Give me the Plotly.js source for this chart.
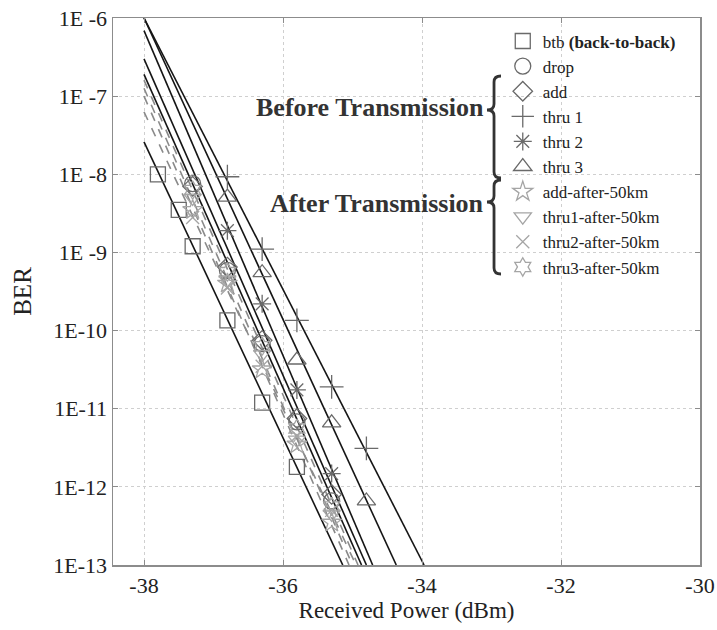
<!DOCTYPE html>
<html>
<head>
<meta charset="utf-8">
<script src="https://cdn.plot.ly/plotly-3.0.1.min.js"></script>
<style>html,body{margin:0;padding:0;background:#fff;}#chart{width:717px;height:630px;}</style>
</head>
<body>
<div id="chart"></div>
<script>
// ---- data ----
const seriesNames = ["btb <b>(back-to-back)</b>", "drop", "add", "thru 1", "thru 2", "thru 3",
  "add-after-50km", "thru1-after-50km", "thru2-after-50km", "thru3-after-50km"];

const btbX = [-37.8, -37.5, -37.3, -36.8, -36.3, -35.8];
const btbY = [1.0e-8, 3.5e-9, 1.2e-9, 1.35e-10, 1.2e-11, 1.8e-12];
const dropX = [-37.3, -36.8, -36.3, -35.8, -35.3];
const dropY = [7.6e-9, 5.9e-10, 6.8e-11, 6.8e-12, 6.6e-13];
const addX = [-37.3, -36.8, -36.3, -35.8, -35.3];
const addY = [7.0e-9, 6.5e-10, 7.5e-11, 7.5e-12, 8.0e-13];
const thru1X = [-36.8, -36.3, -35.8, -35.3, -34.8];
const thru1Y = [9.3e-9, 1.1e-9, 1.35e-10, 1.9e-11, 3.1e-12];
const thru2X = [-36.8, -36.3, -35.8, -35.3];
const thru2Y = [1.9e-9, 2.2e-10, 1.74e-11, 1.48e-12];
const thru3X = [-36.8, -36.3, -35.8, -35.3, -34.8];
const thru3Y = [5.1e-9, 5.5e-10, 4.2e-11, 6.6e-12, 6.6e-13];

const afterX = [-37.3, -36.8, -36.3, -35.8, -35.3];
const addAfterY = [3.5e-9, 4.0e-10, 3.2e-11, 3.5e-12, 3.5e-13];
const thru1AfterY = [5.0e-9, 4.5e-10, 5.0e-11, 4.0e-12, 4.5e-13];
const thru2AfterY = [2.8e-9, 3.5e-10, 3.5e-11, 4.5e-12, 5.0e-13];
const thru3AfterY = [6.3e-9, 5.6e-10, 6.3e-11, 5.6e-12, 5.6e-13];

// fitted straight lines (end points)
const btbFitX = [-38, -35.14],   btbFitY = [2.6e-8, 1e-13];
const dropFitX = [-38, -34.87],  dropFitY = [1.9e-7, 1e-13];
const addFitX = [-38, -34.8],    addFitY = [3.0e-7, 1e-13];
const thru1FitX = [-38, -33.97], thru1FitY = [1e-6, 1e-13];
const thru2FitX = [-38, -34.71], thru2FitY = [6.9e-7, 1e-13];
const thru3FitX = [-38, -34.37], thru3FitY = [1e-6, 1e-13];
const addAfterFitX = [-38, -35.05],   addAfterFitY = [1.0e-7, 1e-13];
const thru1AfterFitX = [-38, -35.0],  thru1AfterFitY = [1.26e-7, 1e-13];
const thru2AfterFitX = [-38, -34.95], thru2AfterFitY = [6.3e-8, 1e-13];
const thru3AfterFitX = [-38, -34.92], thru3AfterFitY = [1.6e-7, 1e-13];

const xTicks = [-38, -36, -34, -32, -30];
const xTickText = ["-38", "-36", "-34", "-32", "-30"];
const yTicks = [1e-6, 1e-7, 1e-8, 1e-9, 1e-10, 1e-11, 1e-12, 1e-13];
const yTickText = ["1E -6", "1E -7", "1E -8", "1E -9", "1E-10", "1E-11", "1E-12", "1E-13"];

// ---- traces ----
const SOLID = "#151515", DASH = "#8a8a8a", MK1 = "#6a6a6a", MK2 = "#a5a5a5";
function fit(x, y, color, dash) {
  return {x: x, y: y, mode: "lines", showlegend: false, hoverinfo: "skip",
    line: {color: color, width: 1.6, dash: dash}};
}
function pts(x, y, name, symbol, color, size) {
  return {x: x, y: y, mode: "markers", name: name,
    marker: {symbol: symbol, size: size, color: color,
      line: {color: color, width: 1.3}}};
}
const traces = [
  fit(addAfterFitX, addAfterFitY, DASH, "dash"),
  fit(thru1AfterFitX, thru1AfterFitY, DASH, "dash"),
  fit(thru2AfterFitX, thru2AfterFitY, DASH, "dash"),
  fit(thru3AfterFitX, thru3AfterFitY, DASH, "dash"),
  fit(btbFitX, btbFitY, SOLID, "solid"),
  fit(dropFitX, dropFitY, SOLID, "solid"),
  fit(addFitX, addFitY, SOLID, "solid"),
  fit(thru1FitX, thru1FitY, SOLID, "solid"),
  fit(thru2FitX, thru2FitY, SOLID, "solid"),
  fit(thru3FitX, thru3FitY, SOLID, "solid"),
  pts(btbX, btbY, seriesNames[0], "square-open", MK1, 15),
  pts(dropX, dropY, seriesNames[1], "circle-open", MK1, 16),
  pts(addX, addY, seriesNames[2], "diamond-open", MK1, 15),
  pts(thru1X, thru1Y, seriesNames[3], "cross-thin-open", MK1, 17),
  pts(thru2X, thru2Y, seriesNames[4], "asterisk-open", MK1, 15),
  pts(thru3X, thru3Y, seriesNames[5], "triangle-up-open", MK1, 16),
  pts(afterX, addAfterY, seriesNames[6], "star-open", MK2, 15),
  pts(afterX, thru1AfterY, seriesNames[7], "triangle-down-open", MK2, 15),
  pts(afterX, thru2AfterY, seriesNames[8], "x-thin-open", MK2, 13),
  pts(afterX, thru3AfterY, seriesNames[9], "hexagram-open", MK2, 14)
];

// ---- braces (paper coordinates) ----
const L = 113, R = 700, T = 18, B = 565;
function px(x) { return ((x - L) / (R - L)).toFixed(4); }
function py(y) { return ((B - y) / (B - T)).toFixed(4); }
function brace(x0, x1, yTop, yTip, yBot) {
  const xm = (x0 + x1) / 2, r = 6;
  return "M " + px(x1) + "," + py(yTop) +
    " Q " + px(xm) + "," + py(yTop) + " " + px(xm) + "," + py(yTop + r) +
    " L " + px(xm) + "," + py(yTip - r) +
    " Q " + px(xm) + "," + py(yTip) + " " + px(x0) + "," + py(yTip) +
    " Q " + px(xm) + "," + py(yTip) + " " + px(xm) + "," + py(yTip + r) +
    " L " + px(xm) + "," + py(yBot - r) +
    " Q " + px(xm) + "," + py(yBot) + " " + px(x1) + "," + py(yBot);
}

const serif = "Liberation Serif, Times New Roman, serif";
const axisCommon = {
  showline: true, mirror: "ticks", linecolor: "#8c8c8c", linewidth: 1.5,
  ticks: "inside", ticklen: 5, tickcolor: "#8c8c8c", tickwidth: 1,
  showgrid: true, gridcolor: "#cfcfcf", griddash: "dot", gridwidth: 1,
  zeroline: false, tickfont: {family: serif, size: 22, color: "#222"}
};

const layout = {
  width: 717, height: 630,
  margin: {l: 113, r: 17, t: 18, b: 65},
  paper_bgcolor: "#fff", plot_bgcolor: "#fff",
  showlegend: true,
  legend: {x: 0.664, y: 0.99, xanchor: "left", yanchor: "top",
    bgcolor: "rgba(0,0,0,0)", borderwidth: 0, tracegroupgap: 0,
    font: {family: serif, size: 17, color: "#222"}, itemwidth: 30},
  xaxis: Object.assign({}, axisCommon, {
    range: [-38.446, -30], tickvals: xTicks, ticktext: xTickText,
    title: {text: "Received Power (dBm)", font: {family: serif, size: 23, color: "#222"}, standoff: 4}
  }),
  yaxis: Object.assign({}, axisCommon, {
    type: "log", range: [-13, -6], tickvals: yTicks, ticktext: yTickText,
    title: {text: "BER", font: {family: serif, size: 25, color: "#222"}, standoff: 14}
  }),
  shapes: [
    {type: "path", xref: "paper", yref: "paper", path: brace(487, 501, 76, 110, 178),
      line: {color: "#333", width: 2.8}},
    {type: "path", xref: "paper", yref: "paper", path: brace(487, 501, 180, 202, 274),
      line: {color: "#333", width: 2.8}}
  ],
  annotations: [
    {xref: "paper", yref: "paper", x: px(486), y: py(108), xanchor: "right", yanchor: "middle",
      text: "<b>Before Transmission</b>", showarrow: false,
      font: {family: serif, size: 26, color: "#333"}},
    {xref: "paper", yref: "paper", x: px(486), y: py(204), xanchor: "right", yanchor: "middle",
      text: "<b>After Transmission</b>", showarrow: false,
      font: {family: serif, size: 26, color: "#333"}}
  ]
};

Plotly.newPlot("chart", traces, layout, {displayModeBar: false, staticPlot: true});
</script>
</body>
</html>
